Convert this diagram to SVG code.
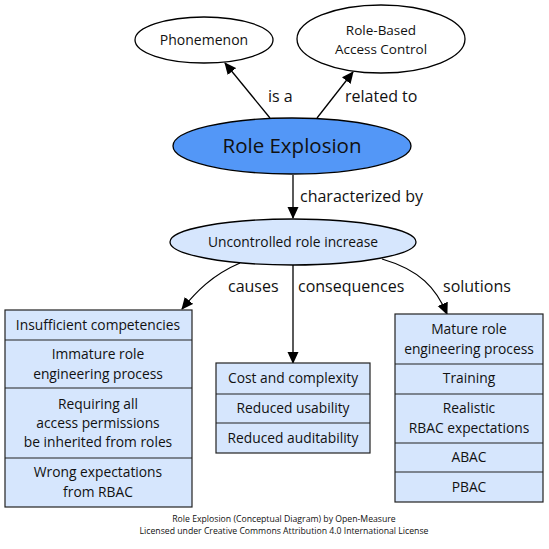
<svg xmlns="http://www.w3.org/2000/svg" width="549" height="549" viewBox="0 0 549 549">
<defs>
<style>
text{font-family:"Open Sans","DejaVu Sans",sans-serif;fill:#111;text-anchor:middle}
.n{font-size:13.8px}
.e{font-size:16px;text-anchor:start}
.ell{stroke:#000;stroke-width:1.3}
.box{fill:#d6e6fd;stroke:#222;stroke-width:1.2}
.c{fill:none;stroke:#000;stroke-width:1.3}
.f{font-size:8.7px}
</style>
<marker id="ah" markerWidth="12" markerHeight="12" refX="11" refY="6" orient="auto" markerUnits="userSpaceOnUse" viewBox="0 0 12 12">
<path d="M0,0.5 L12,6 L0,11.5 Z" fill="#000"/>
</marker>
</defs>
<rect width="549" height="549" fill="#fff"/>
<g id="connectors">
<path class="c" d="M270,118 L225,63" marker-end="url(#ah)"/>
<path class="c" d="M317,118 L353,72" marker-end="url(#ah)"/>
<path class="c" d="M293,175 L293,218" marker-end="url(#ah)"/>
<path class="c" d="M240,263 C212,275 196,292 182,309" marker-end="url(#ah)"/>
<path class="c" d="M293,265 L293,363" marker-end="url(#ah)"/>
<path class="c" d="M382,259 C420,270 436,288 447,314" marker-end="url(#ah)"/>
<text class="e" x="268" y="102">is a</text>
<text class="e" x="345" y="102">related to</text>
<text class="e" x="300" y="202">characterized by</text>
<text class="e" x="228" y="292">causes</text>
<text class="e" x="298" y="292">consequences</text>
<text class="e" x="443" y="292">solutions</text>
</g>
<g id="phonemenon">
<ellipse class="ell" cx="204" cy="40" rx="69" ry="23" fill="#fff"/>
<text x="204" y="45" style="font-size:14px">Phonemenon</text>
</g>
<g id="rbac">
<ellipse class="ell" cx="381" cy="39" rx="84" ry="34" fill="#fff"/>
<text x="381" y="35" style="font-size:13.5px">Role-Based</text>
<text x="381" y="54" style="font-size:13.5px">Access Control</text>
</g>
<g id="role-explosion">
<ellipse class="ell" cx="292" cy="146" rx="119" ry="28" fill="#5397f7"/>
<text x="292" y="153" style="font-size:20.5px">Role Explosion</text>
</g>
<g id="uncontrolled">
<ellipse class="ell" cx="293" cy="242" rx="123" ry="23" fill="#d6e6fd"/>
<text class="n" x="293" y="247">Uncontrolled role increase</text>
</g>
<g id="causes">
<rect class="box" x="5" y="310" width="187" height="197"/>
<path class="c" style="stroke:#222;stroke-width:1.2" d="M5,340H192M5,388H192M5,458H192"/>
<text class="n" x="98" y="330">Insufficient competencies</text>
<text class="n" x="98" y="359">Immature role</text>
<text class="n" x="98" y="379">engineering process</text>
<text class="n" x="98" y="409">Requiring all</text>
<text class="n" x="98" y="428">access permissions</text>
<text class="n" x="98" y="447">be inherited from roles</text>
<text class="n" x="98" y="477">Wrong expectations</text>
<text class="n" x="98" y="497">from RBAC</text>
</g>
<g id="consequences">
<rect class="box" x="216" y="363" width="154" height="90"/>
<path class="c" style="stroke:#222;stroke-width:1.2" d="M216,394H370M216,423H370"/>
<text class="n" x="293" y="383">Cost and complexity</text>
<text class="n" x="293" y="413">Reduced usability</text>
<text class="n" x="293" y="443">Reduced auditability</text>
</g>
<g id="solutions">
<rect class="box" x="395" y="314" width="148" height="188"/>
<path class="c" style="stroke:#222;stroke-width:1.2" d="M395,364H543M395,394H543M395,443H543M395,472H543"/>
<text class="n" x="469" y="334">Mature role</text>
<text class="n" x="469" y="354">engineering process</text>
<text class="n" x="469" y="383">Training</text>
<text class="n" x="469" y="413">Realistic</text>
<text class="n" x="469" y="433">RBAC expectations</text>
<text class="n" x="469" y="462">ABAC</text>
<text class="n" x="469" y="492">PBAC</text>
</g>
<g id="footer">
<text class="f" x="284" y="522">Role Explosion (Conceptual Diagram) by Open-Measure</text>
<text class="f" x="284" y="534">Licensed under Creative Commons Attribution 4.0 International License</text>
</g>
</svg>
